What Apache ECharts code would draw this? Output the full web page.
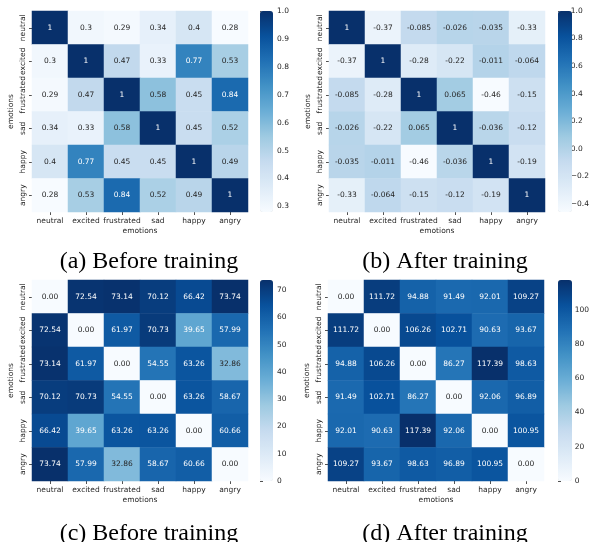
<!DOCTYPE html>
<html><head><meta charset="utf-8">
<script src="https://cdn.jsdelivr.net/npm/echarts@6/dist/echarts.min.js"></script>
<style>html,body{margin:0;padding:0;background:#fff}#c{width:592px;height:542px}</style>
</head><body><div id="c"></div>
<script>
const emotions = ['neutral','excited','frustrated','sad','happy','angry'];
const corrBefore = [
  [1, 0.3, 0.29, 0.34, 0.4, 0.28],
  [0.3, 1, 0.47, 0.33, 0.77, 0.53],
  [0.29, 0.47, 1, 0.58, 0.45, 0.84],
  [0.34, 0.33, 0.58, 1, 0.45, 0.52],
  [0.4, 0.77, 0.45, 0.45, 1, 0.49],
  [0.28, 0.53, 0.84, 0.52, 0.49, 1]
];
const corrAfter = [
  [1, -0.37, -0.085, -0.026, -0.035, -0.33],
  [-0.37, 1, -0.28, -0.22, -0.011, -0.064],
  [-0.085, -0.28, 1, 0.065, -0.46, -0.15],
  [-0.026, -0.22, 0.065, 1, -0.036, -0.12],
  [-0.035, -0.011, -0.46, -0.036, 1, -0.19],
  [-0.33, -0.064, -0.15, -0.12, -0.19, 1]
];
const distBefore = [
  [0.00, 72.54, 73.14, 70.12, 66.42, 73.74],
  [72.54, 0.00, 61.97, 70.73, 39.65, 57.99],
  [73.14, 61.97, 0.00, 54.55, 63.26, 32.86],
  [70.12, 70.73, 54.55, 0.00, 63.26, 58.67],
  [66.42, 39.65, 63.26, 63.26, 0.00, 60.66],
  [73.74, 57.99, 32.86, 58.67, 60.66, 0.00]
];
const distAfter = [
  [0.00, 111.72, 94.88, 91.49, 92.01, 109.27],
  [111.72, 0.00, 106.26, 102.71, 90.63, 93.67],
  [94.88, 106.26, 0.00, 86.27, 117.39, 98.63],
  [91.49, 102.71, 86.27, 0.00, 92.06, 96.89],
  [92.01, 90.63, 117.39, 92.06, 0.00, 100.95],
  [109.27, 93.67, 98.63, 96.89, 100.95, 0.00]
];
const ticksA = [0.3, 0.4, 0.5, 0.6, 0.7, 0.8, 0.9, 1.0];
const ticksB = [-0.4, -0.2, 0.0, 0.2, 0.4, 0.6, 0.8, 1.0];
const ticksC = [0, 10, 20, 30, 40, 50, 60, 70];
const ticksD = [0, 20, 40, 60, 80, 100];
const captions = ['(a) Before training', '(b) After training', '(c) Before training', '(d) After training'];

const blues = ['#f7fbff','#deebf7','#c6dbef','#9ecae1','#6baed6','#4292c6','#2171b5','#08519c','#08306b'];
function hexRgb(h){return [parseInt(h.slice(1,3),16),parseInt(h.slice(3,5),16),parseInt(h.slice(5,7),16)];}
function cmap(t){
  t = Math.max(0, Math.min(1, t));
  const p = t * (blues.length - 1), i = Math.min(blues.length - 2, Math.floor(p)), f = p - i;
  const a = hexRgb(blues[i]), b = hexRgb(blues[i+1]);
  return a.map((v,k)=>v + (b[k]-v)*f);
}
function lum(rgb){
  const l = rgb.map(v=>{v/=255;return v<=0.03928? v/12.92 : Math.pow((v+0.055)/1.055,2.4);});
  return 0.2126*l[0]+0.7152*l[1]+0.0722*l[2];
}
const FONT = 'DejaVu Sans';
const FS = 7.5;
const TXT = '#262626';

const panels = [
  {m: corrBefore, min: 0.28, max: 1, ticks: ticksA, fmt: v=>String(v), cfmt: v=>v.toFixed(1), hx: 32, hy: 11, cx: 260, cw: 13, capX: 149, capY: 262},
  {m: corrAfter, min: -0.46, max: 1, ticks: ticksB, fmt: v=>String(v), cfmt: v=>v.toFixed(1).replace('-', '\u2212'), hx: 329, hy: 11, cx: 558, cw: 14, capX: 445, capY: 262},
  {m: distBefore, min: 0, max: 73.74, ticks: ticksC, fmt: v=>v.toFixed(2), cfmt: v=>String(v), hx: 32, hy: 280, cx: 260, cw: 13, capX: 149, capY: 534},
  {m: distAfter, min: 0, max: 117.39, ticks: ticksD, fmt: v=>v.toFixed(2), cfmt: v=>String(v), hx: 328, hy: 280, cx: 558, cw: 14, capX: 445, capY: 534}
];
const HW = 216, HH = 201;

const grid = [], xAxis = [], yAxis = [], series = [], visualMap = [], graphic = [];
panels.forEach((p, i) => {
  grid.push({left: p.hx, top: p.hy, width: HW, height: HH});
  grid.push({left: p.cx, top: p.hy, width: p.cw, height: HH});
  const gi = i*2, ci = i*2+1;
  xAxis.push({gridIndex: gi, type: 'category', data: emotions, position: 'bottom',
    axisLine: {show: false}, splitLine: {show: false},
    axisTick: {show: true, alignWithLabel: true, length: 3, lineStyle: {color: TXT, width: 0.8}},
    axisLabel: {interval: 0, fontFamily: FONT, fontSize: FS, color: TXT, margin: 5},
    name: 'emotions', nameLocation: 'middle', nameGap: 15, nameMoveOverlap: false,
    nameTextStyle: {fontFamily: FONT, fontSize: FS, color: TXT}});
  yAxis.push({gridIndex: gi, type: 'category', data: emotions, inverse: true,
    axisLine: {show: false}, splitLine: {show: false},
    axisTick: {show: true, alignWithLabel: true, length: 3, lineStyle: {color: TXT, width: 0.8}},
    axisLabel: {interval: 0, rotate: 90, fontFamily: FONT, fontSize: FS, color: TXT, margin: 5},
    name: 'emotions', nameLocation: 'middle', nameGap: 17, nameRotate: 90, nameMoveOverlap: false,
    nameTextStyle: {fontFamily: FONT, fontSize: FS, color: TXT}});
  xAxis.push({gridIndex: ci, type: 'value', show: false, min: 0, max: 1});
  yAxis.push({gridIndex: ci, type: 'value', position: 'right', min: p.min, max: p.max,
    axisLine: {show: false}, splitLine: {show: false},
    axisTick: {show: true, length: 3, customValues: p.ticks, lineStyle: {color: TXT, width: 0.8}},
    axisLabel: {show: true, customValues: p.ticks, formatter: p.cfmt, fontFamily: FONT, fontSize: FS, color: TXT, margin: 4}});
  const data = [];
  p.m.forEach((row, r) => row.forEach((v, c) => {
    const rgb = cmap((v - p.min) / (p.max - p.min));
    data.push({value: [c, r, v], label: {color: lum(rgb) > 0.408 ? TXT : '#ffffff'}});
  }));
  series.push({type: 'heatmap', xAxisIndex: gi, yAxisIndex: gi, data: data,
    label: {show: true, fontFamily: FONT, fontSize: FS, formatter: (pr) => p.fmt(pr.value[2])},
    emphasis: {disabled: true}, itemStyle: {borderWidth: 0}});
  visualMap.push({type: 'continuous', seriesIndex: i, min: p.min, max: p.max, dimension: 2,
    inRange: {color: blues}, show: true, calculable: false, orient: 'vertical',
    left: p.cx, top: p.hy, itemWidth: p.cw, itemHeight: HH, padding: 0, text: null, showLabel: false,
    hoverLink: false});
  graphic.push({type: 'text', x: p.capX, y: p.capY, style: {text: captions[i], fontFamily: 'Liberation Serif',
    fontSize: 24, fill: '#000', textAlign: 'center', textVerticalAlign: 'middle'}});
});

const chart = echarts.init(document.getElementById('c'), null, {renderer: 'canvas'});
chart.setOption({animation: false, backgroundColor: '#fff', grid, xAxis, yAxis, series, visualMap, graphic});
</script></body></html>
